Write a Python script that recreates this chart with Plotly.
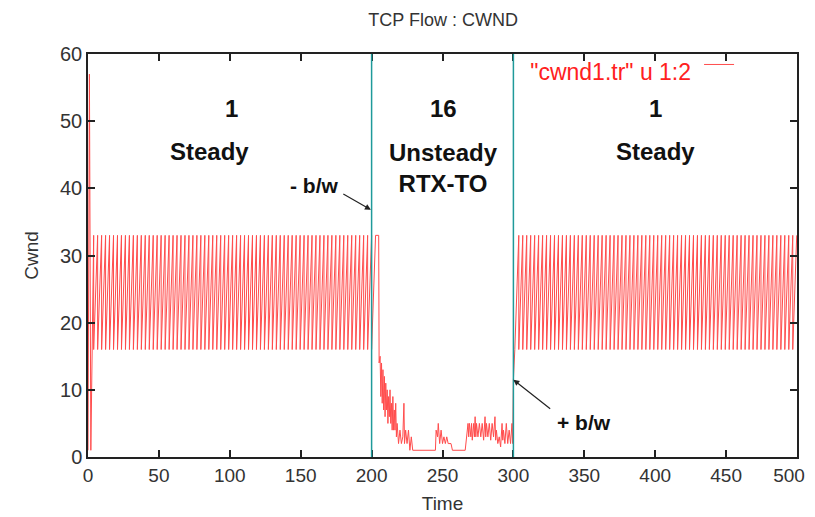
import plotly.graph_objects as go

# ---- data ----
startup_time = [0, 1.0, 2.0, 4.0]
startup_cwnd = [1, 57, 1, 33]

steady_start_1 = 4.0
steady_end_1 = 205.0
steady_start_2 = 301.0
steady_end_2 = 500.0
cwnd_low = 16
cwnd_high = 33
tooth_period = 2.8

unsteady_time = [205, 205.3, 206, 206.5, 207, 207.5, 208, 208.5, 209, 209.5, 210, 210.5,
                 211, 211.5, 212, 212.5, 213, 213.5, 214, 214.5, 215, 215.5, 216, 216.5,
                 217, 217.5, 218, 219, 220, 221, 222, 222.8, 223.2, 224, 225, 226, 227,
                 228, 229, 245, 245.5, 246.5, 247, 248, 249, 250, 251, 252, 253, 254, 256,
                 257, 266, 267, 268, 268.5, 269, 270, 270.5, 271, 272, 272.5, 273, 273.5,
                 274, 275, 276, 277, 278, 279, 280, 280.5, 281, 282, 283, 284, 285, 286,
                 287, 287.5, 288, 289, 290, 291, 292, 292.5, 293, 294, 295, 296, 297, 298,
                 299, 299.5, 300, 301]
unsteady_cwnd = [33, 14, 15, 9, 14, 8, 13, 7, 12, 6, 11, 7,
                 10, 5, 9, 6, 10, 5, 8, 4, 9, 4, 7, 4,
                 8, 3, 5, 2, 4, 2, 3, 8, 2, 4, 2, 4, 1,
                 3, 1, 1, 4, 3, 5, 2, 4, 2, 3, 2, 3, 2, 2,
                 1, 1, 3, 5, 3, 5, 3, 5, 2.5, 5, 3, 6, 3,
                 5, 3, 5, 3, 5, 2.5, 6, 3, 5, 3, 5, 2.5, 5, 3,
                 6, 2.5, 4, 2, 3, 1.5, 5, 2.5, 4, 2, 5, 2, 4, 2,
                 5, 2, 11.5, 16]

phase_bounds = [200, 300]
phase_numbers = ["1", "16", "1"]
phase_number_x = [101, 251, 400]
phase_names = ["Steady", "Unsteady<br>RTX-TO", "Steady"]
phase_name_x = [86, 251, 400]
phase_name_y = [45.5, 43.0, 45.5]
xticks = list(range(0, 501, 50))
yticks = list(range(0, 61, 10))
# last label padded so it stays inside the window
xticklabels = [str(v) for v in xticks[:-1]] + [str(xticks[-1]) + "\u00a0\u00a0\u00a0"]


def sawtooth(t0, t1):
    xs, ys = [], []
    t = t0
    while t + tooth_period <= t1:
        xs += [t, t + tooth_period]
        ys += [cwnd_low, cwnd_high]
        t += tooth_period
    return xs, ys


s1x, s1y = sawtooth(steady_start_1, steady_end_1)
s2x, s2y = sawtooth(steady_start_2, steady_end_2)
time = startup_time + s1x + unsteady_time + s2x
cwnd = startup_cwnd + s1y + unsteady_cwnd + s2y

FONT = "Liberation Sans, Arial, sans-serif"

fig = go.Figure()
fig.add_trace(go.Scatter(x=time, y=cwnd, mode="lines", name=" ",
                         line=dict(color="#ff2020", width=1), opacity=0.8))

for b in phase_bounds:
    fig.add_vline(x=b, line=dict(color="#1f9a9a", width=1.5))

bold = dict(family=FONT, size=24, color="#111")

for num, xc in zip(phase_numbers, phase_number_x):
    fig.add_annotation(x=xc, y=51.9, text=f"<b>{num}</b>", showarrow=False, font=bold)
for lab, xc, yc in zip(phase_names, phase_name_x, phase_name_y):
    fig.add_annotation(x=xc, y=yc, text=f"<b>{lab}</b>", showarrow=False, font=bold,
                       yanchor="middle")

fig.add_annotation(x=199.5, y=36.8, ax=179, ay=39.3, axref="x", ayref="y",
                   text="", showarrow=True, arrowhead=2, arrowsize=1, arrowwidth=1.2,
                   arrowcolor="#222")
fig.add_annotation(x=178, y=40.4, text="<b>- b/w</b>", showarrow=False, xanchor="right",
                   font=dict(family=FONT, size=21, color="#111"))
fig.add_annotation(x=300, y=11.5, ax=327, ay=7.0, axref="x", ayref="y",
                   text="", showarrow=True, arrowhead=2, arrowsize=1, arrowwidth=1.2,
                   arrowcolor="#222")
fig.add_annotation(x=329.5, y=5.1, text="<b>+ b/w</b>", showarrow=False, xanchor="left",
                   font=dict(family=FONT, size=21, color="#111"))

axis_common = dict(showline=True, linecolor="#222", linewidth=1.5, mirror="ticks",
                   ticks="inside", ticklen=7, tickcolor="#222", tickwidth=1.5,
                   showgrid=False, zeroline=False, automargin=False)

fig.update_xaxes(range=[0, 500], tickvals=xticks, ticktext=xticklabels,
                 tickfont=dict(family=FONT, size=19, color="#333"),
                 title=dict(text="Time", font=dict(family=FONT, size=19, color="#333"), standoff=12),
                 **axis_common)
fig.update_yaxes(range=[0, 60], tickvals=yticks,
                 tickfont=dict(family=FONT, size=20, color="#333"),
                 title=dict(text="Cwnd", font=dict(family=FONT, size=19, color="#333"), standoff=16),
                 **axis_common)

fig.update_layout(
    width=815, height=517,
    margin=dict(l=80, r=26, t=46, b=68, autoexpand=False),
    plot_bgcolor="white", paper_bgcolor="white",
    title=dict(text="TCP Flow : CWND", x=0.534, xanchor="center", y=0.99, yanchor="top",
               font=dict(family=FONT, size=18, color="#333")),
    showlegend=True,
    legend=dict(x=0.927, y=1.01, xanchor="right", yanchor="top", bgcolor="rgba(0,0,0,0)",
                title=dict(text='"cwnd1.tr" u 1:2', side="left",
                           font=dict(family=FONT, size=23, color="#ff2020")),
                font=dict(size=2)),
)

fig.write_html("out.html")
